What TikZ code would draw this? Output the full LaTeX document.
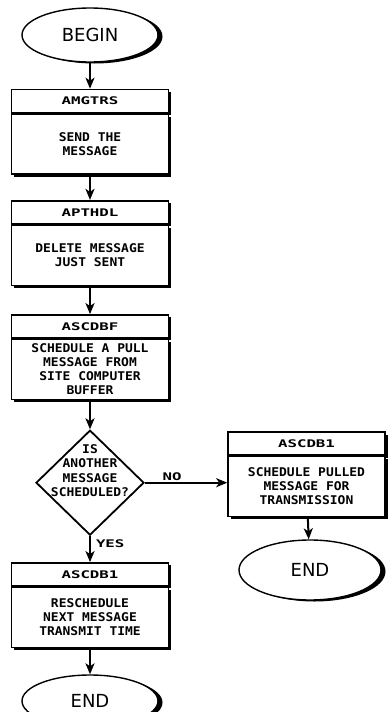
\documentclass[tikz,border=0pt]{standalone}
\usepackage{fontspec}
\setmainfont{DejaVu Sans}
\newfontfamily\plotfont[FakeStretch=1.08]{DejaVu Sans Mono Bold}
\newfontfamily\headfont[FakeStretch=1.5]{DejaVu Sans Mono Bold}
\usetikzlibrary{shapes.geometric, shadows, positioning, arrows.meta}

\begin{document}
\begin{tikzpicture}[x=1pt, y=-1pt,
    head/.style={draw, line width=1.6pt, fill=white, minimum width=157pt,
      minimum height=23pt, inner sep=0pt, font=\headfont\fontsize{10.5}{12}\selectfont,
      drop shadow={shadow xshift=2.5pt, shadow yshift=-2.5pt, opacity=1, fill=black}},
    body/.style={draw, line width=1.6pt, fill=white, minimum width=157pt,
      minimum height=60pt, inner sep=1pt, align=center,
      font=\plotfont\fontsize{12}{14}\selectfont,
      drop shadow={shadow xshift=2.5pt, shadow yshift=-2.5pt, opacity=1, fill=black}},
    term/.style={ellipse, draw, line width=1.4pt, fill=white, minimum width=136pt,
      minimum height=54pt, font=\fontsize{18}{20}\selectfont,
      drop shadow={shadow xshift=4.5pt, shadow yshift=-1.5pt, opacity=1, fill=black}},
    decision/.style={diamond, draw, line width=1.8pt, minimum width=108pt,
      minimum height=105pt, inner sep=0pt},
    lbl/.style={font=\headfont\fontsize{10.5}{12}\selectfont, inner sep=1pt},
    flow/.style={-{Stealth[length=11pt, width=9pt, inset=3pt]}, line width=2pt}]
  \useasboundingbox (0,0) rectangle (390,712);

  \node[term] (begin) at (90,35) {BEGIN};

  \node[head, below=26pt of begin] (hSend) {AMGTRS};
  \node[body, below=0pt of hSend] (bSend) {SEND THE\\MESSAGE};

  \node[head, below=25pt of bSend] (hDelete) {APTHDL};
  \node[body, below=0pt of hDelete] (bDelete) {DELETE MESSAGE\\JUST SENT};

  \node[head, below=28pt of bDelete] (hPull) {ASCDBF};
  \node[body, below=0pt of hPull] (bPull) {SCHEDULE A PULL\\MESSAGE FROM\\SITE COMPUTER\\BUFFER};

  \node[decision, below=29pt of bPull] (ask) {};
  \node[align=center, font=\plotfont\fontsize{12}{14.5}\selectfont, inner sep=0pt]
    (askText) at ([yshift=12pt]ask.center) {IS\\ANOTHER\\MESSAGE\\SCHEDULED?};

  \node[head] (hXmit) at (306.5,443.5) {ASCDB1};
  \node[body, below=0pt of hXmit] (bXmit) {SCHEDULE PULLED\\MESSAGE FOR\\TRANSMISSION};
  \node[term, minimum width=142pt, minimum height=60pt] (endR) at (310,570) {END};

  \node[head, below=26pt of ask] (hResched) {ASCDB1};
  \node[body, below=0pt of hResched] (bResched) {RESCHEDULE\\NEXT MESSAGE\\TRANSMIT TIME};
  \node[term, minimum height=52pt, below=26pt of bResched] (endL) {END};

  \draw[flow] (begin) -- (hSend);
  \draw[flow] (bSend) -- (hDelete);
  \draw[flow] (bDelete) -- (hPull);
  \draw[flow] (bPull) -- (ask);
  \draw[flow] (ask.east) -- node[lbl, pos=0.33, above] {NO} (ask.east -| bXmit.west);
  \draw[flow] (ask) -- node[lbl, pos=0.3, right=4pt] {YES} (hResched);
  \draw[flow] (bXmit) -- (endR);
  \draw[flow] (bResched) -- (endL);
\end{tikzpicture}
\end{document}
